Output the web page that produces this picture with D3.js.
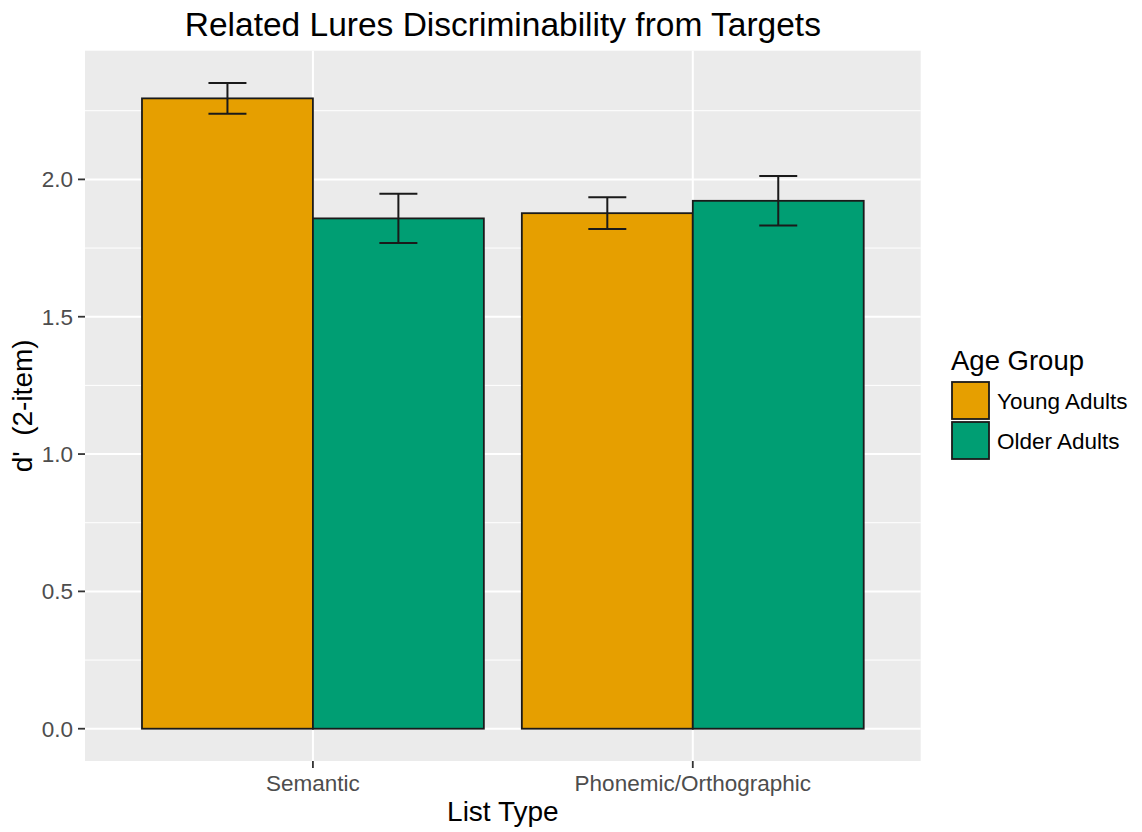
<!DOCTYPE html>
<html><head><meta charset="utf-8">
<script src="https://cdn.jsdelivr.net/npm/d3@7"></script>
<style>body{margin:0;background:#fff;} svg{display:block;font-family:"Liberation Sans",Arial,sans-serif;}</style>
</head><body><svg id="c" width="1142" height="832"></svg>
<script>
const categories = ["Semantic", "Phonemic/Orthographic"];
const groups = ["Young Adults", "Older Adults"];
const colors = ["#E69F00", "#009E73"];
const youngMeans = [2.295, 1.877];
const olderMeans = [1.858, 1.922];
const youngErr = [0.056, 0.058];
const olderErr = [0.090, 0.090];
const yTicks = [0.0, 0.5, 1.0, 1.5, 2.0];
const yMinor = [0.25, 0.75, 1.25, 1.75, 2.25];

const data = [];
categories.forEach((c, i) => {
  data.push({cat: c, group: groups[0], v: youngMeans[i], e: youngErr[i]});
  data.push({cat: c, group: groups[1], v: olderMeans[i], e: olderErr[i]});
});

const svg = d3.select("#c");
const P = {l: 85, r: 920.7, t: 50.7, b: 761};
const ymax = d3.max(data, d => d.v + d.e);
const pad = ymax * 0.05;
const y = d3.scaleLinear().domain([-pad, ymax + pad]).range([P.b, P.t]);
const xc = d3.scaleLinear().domain([0.4, categories.length + 0.6]).range([P.l, P.r]);
const color = d3.scaleOrdinal().domain(groups).range(colors);

svg.append("rect").attr("x", P.l).attr("y", P.t).attr("width", P.r - P.l).attr("height", P.b - P.t).attr("fill", "#ebebeb");
const g = svg.append("g");
yMinor.forEach(t => g.append("line").attr("x1", P.l).attr("x2", P.r).attr("y1", y(t)).attr("y2", y(t)).attr("stroke", "#fff").attr("stroke-width", 1));
yTicks.forEach(t => g.append("line").attr("x1", P.l).attr("x2", P.r).attr("y1", y(t)).attr("y2", y(t)).attr("stroke", "#fff").attr("stroke-width", 2));
categories.forEach((c, i) => g.append("line").attr("x1", xc(i + 1)).attr("x2", xc(i + 1)).attr("y1", P.t).attr("y2", P.b).attr("stroke", "#fff").attr("stroke-width", 2));

const barW = 0.45;
const xPos = d => {
  const i = categories.indexOf(d.cat), j = groups.indexOf(d.group);
  return i + 1 - 0.45 + j * barW;
};
svg.selectAll("rect.bar").data(data).enter().append("rect").attr("class", "bar")
  .attr("x", d => xc(xPos(d))).attr("width", d => xc(xPos(d) + barW) - xc(xPos(d)))
  .attr("y", d => y(d.v)).attr("height", d => y(0) - y(d.v))
  .attr("fill", d => color(d.group)).attr("stroke", "#1a1a1a").attr("stroke-width", 1.8);

const eb = svg.selectAll("g.eb").data(data).enter().append("g").attr("class", "eb");
const cx = d => xPos(d) + barW / 2;
eb.append("line").attr("x1", d => xc(cx(d))).attr("x2", d => xc(cx(d))).attr("y1", d => y(d.v - d.e)).attr("y2", d => y(d.v + d.e));
eb.append("line").attr("x1", d => xc(cx(d) - 0.05)).attr("x2", d => xc(cx(d) + 0.05)).attr("y1", d => y(d.v + d.e)).attr("y2", d => y(d.v + d.e));
eb.append("line").attr("x1", d => xc(cx(d) - 0.05)).attr("x2", d => xc(cx(d) + 0.05)).attr("y1", d => y(d.v - d.e)).attr("y2", d => y(d.v - d.e));
eb.selectAll("line").attr("stroke", "#1a1a1a").attr("stroke-width", 2);

// y axis
const ya = svg.append("g");
yTicks.forEach(t => {
  ya.append("line").attr("x1", P.l - 7).attr("x2", P.l).attr("y1", y(t)).attr("y2", y(t)).attr("stroke", "#333").attr("stroke-width", 1.8);
  ya.append("text").attr("x", P.l - 12).attr("y", y(t)).attr("dy", "0.36em").attr("text-anchor", "end")
    .attr("font-size", 22.5).attr("fill", "#4d4d4d").text(t.toFixed(1));
});
// x axis
categories.forEach((c, i) => {
  svg.append("line").attr("x1", xc(i + 1)).attr("x2", xc(i + 1)).attr("y1", P.b).attr("y2", P.b + 7).attr("stroke", "#333").attr("stroke-width", 1.8);
  svg.append("text").attr("x", xc(i + 1)).attr("y", 791).attr("text-anchor", "middle")
    .attr("font-size", 22.5).attr("fill", "#4d4d4d").text(c);
});

svg.append("text").attr("x", (P.l + P.r) / 2).attr("y", 821).attr("text-anchor", "middle").attr("font-size", 28).attr("fill", "#000").text("List Type");
svg.append("text").attr("transform", `translate(32,${(P.t + P.b) / 2}) rotate(-90)`).attr("text-anchor", "middle").attr("font-size", 28).attr("fill", "#000").text("d'\u00a0\u00a0(2-item)");
svg.append("text").attr("x", (P.l + P.r) / 2).attr("y", 36).attr("text-anchor", "middle").attr("font-size", 33.5).attr("fill", "#000").text("Related Lures Discriminability from Targets");

// legend
const lg = svg.append("g");
lg.append("text").attr("x", 951).attr("y", 370).attr("font-size", 27.5).attr("fill", "#000").text("Age Group");
groups.forEach((gname, j) => {
  const ky = 382 + j * 40;
  lg.append("rect").attr("x", 952).attr("y", ky).attr("width", 37).attr("height", 37).attr("fill", color(gname)).attr("stroke", "#1a1a1a").attr("stroke-width", 1.8);
  lg.append("text").attr("x", 997).attr("y", ky + 18.5).attr("dy", "0.36em").attr("font-size", 22.5).attr("fill", "#000").text(gname);
});
</script></body></html>
